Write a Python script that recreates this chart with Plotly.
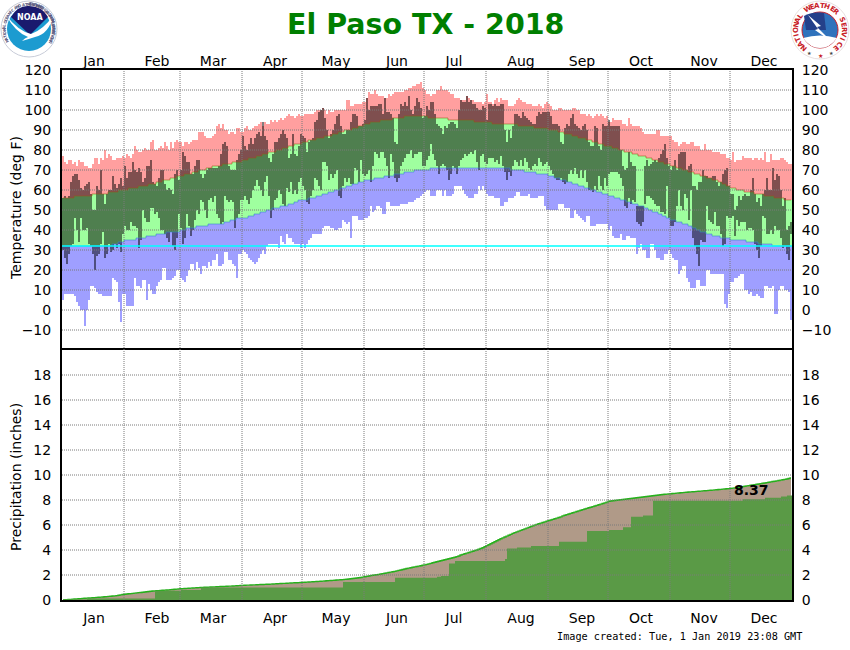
import math
import numpy as np
import plotly.graph_objects as go

W, H = 850, 650

months = ["Jan", "Feb", "Mar", "Apr", "May", "Jun", "Jul", "Aug", "Sep", "Oct", "Nov", "Dec"]
month_starts = [0, 31, 59, 90, 120, 151, 181, 212, 243, 273, 304, 334]
month_label_days = [15.5, 47, 75, 106, 136.5, 167, 195.5, 229, 259.5, 289, 320.5, 350.5]
temp_ticks = [120, 110, 100, 90, 80, 70, 60, 50, 40, 30, 20, 10, 0, -10]
precip_ticks = [18, 16, 14, 12, 10, 8, 6, 4, 2, 0]

# daily values, one row per month
record_high = [
    77,74,73,75,75,73,74,72,75,74,74,72,72,71,71,73,76,76,73,76,75,80,76,78,77,75,75,76,76,76,77,
    76,78,77,76,78,82,80,79,79,80,81,80,80,84,85,80,80,81,82,81,84,82,80,84,81,84,85,84,
    84,82,84,84,83,84,85,85,85,89,89,89,87,86,86,86,87,88,92,93,91,93,90,90,88,89,89,88,91,91,89,
    89,91,92,90,90,91,92,92,93,94,92,94,93,93,95,94,95,94,95,96,95,96,97,98,97,97,96,97,98,97,
    97,98,98,98,98,98,99,100,100,100,101,100,98,100,99,99,100,100,100,100,100,100,105,105,102,102,103,103,103,103,104,
    104,106,109,108,108,110,108,107,107,107,106,106,108,107,108,109,109,109,109,109,110,110,111,111,112,112,113,113,114,111,
    110,108,108,107,108,108,110,110,112,110,110,110,109,108,108,106,106,106,105,105,105,107,106,105,105,104,104,104,104,103,104,
    108,104,104,103,105,106,104,106,105,105,105,102,102,102,103,105,106,105,104,104,103,103,103,102,102,102,103,102,101,103,104,
    103,102,100,100,100,101,101,100,100,100,100,100,101,101,100,100,98,98,98,97,98,97,96,97,98,97,98,97,96,97,
    94,94,96,95,95,95,95,93,93,92,96,93,92,92,92,92,91,89,88,88,88,88,88,88,90,90,87,87,87,87,87,
    87,85,84,84,82,83,84,84,83,83,84,84,82,82,82,80,80,83,80,80,80,79,79,79,79,78,78,78,76,76,
    75,79,74,75,75,75,77,76,76,76,76,75,76,76,75,76,75,79,74,74,78,75,75,75,75,76,76,75,74,73,73,
]
record_low = [
    5,8,8,8,8,8,7,4,2,0,0,-8,0,5,12,12,11,9,8,8,7,7,7,7,7,16,15,14,4,-6,8,
    8,2,2,2,2,16,12,12,11,15,15,5,13,10,8,8,12,14,15,21,21,15,15,15,16,17,20,20,
    16,15,14,17,20,23,23,20,24,21,18,22,22,21,24,22,25,25,28,22,22,23,29,29,25,25,23,22,16,28,28,
    30,29,28,26,25,24,23,24,26,28,30,28,32,33,33,33,33,33,31,37,34,33,38,36,36,34,33,33,33,31,
    33,31,33,35,36,38,38,38,38,38,41,42,42,42,41,41,40,40,41,41,45,44,43,44,36,47,47,47,45,45,45,
    46,46,47,52,49,50,52,52,51,48,48,54,54,52,52,52,52,52,53,53,53,53,54,54,54,55,56,56,57,58,
    59,60,60,57,57,57,60,60,60,57,60,57,57,57,58,62,62,62,62,60,58,57,56,56,56,58,58,62,60,62,60,
    58,57,57,57,56,56,56,52,52,54,54,56,56,56,57,59,59,57,57,57,57,58,56,56,56,56,57,57,57,52,50,
    50,50,50,50,50,53,53,53,51,51,51,46,46,50,48,47,46,45,44,47,47,42,42,42,43,43,43,43,43,43,
    40,42,37,36,36,36,38,35,35,37,37,36,36,36,28,31,33,30,30,26,26,33,33,30,26,26,25,25,28,28,30,
    28,26,25,25,18,20,22,22,16,14,11,11,11,15,15,12,12,12,20,20,18,18,18,18,18,18,18,3,1,8,
    14,14,16,16,17,18,18,10,10,8,9,7,7,8,7,6,6,12,12,11,11,12,-2,-2,10,12,12,10,10,9,-5,
]
normal_high = [
    56,56,56,56,56,56,57,57,57,57,57,57,57,57,57,58,58,58,58,58,58,58,58,59,59,59,59,59,60,60,60,
    60,60,61,61,61,61,61,62,62,62,62,62,63,63,63,63,64,64,64,65,65,65,65,66,66,66,67,67,
    67,67,68,68,68,68,69,69,69,70,70,70,70,71,71,71,72,72,72,72,72,73,73,73,73,73,74,74,74,74,74,
    75,75,75,76,76,76,76,77,77,77,78,78,78,79,79,79,79,80,80,80,81,81,81,82,82,82,83,83,83,83,
    84,84,84,85,85,85,85,86,86,86,86,87,87,87,87,88,88,88,89,89,89,90,90,90,90,91,91,91,92,92,92,
    93,93,93,94,94,94,94,94,95,95,95,95,95,95,96,96,96,96,96,96,97,97,97,97,97,97,97,97,97,97,
    97,97,96,96,96,96,96,96,96,96,96,96,95,95,95,95,95,95,95,95,95,95,95,95,95,94,94,94,94,94,94,
    94,94,94,93,93,93,93,93,93,93,93,93,93,93,93,93,92,92,92,92,92,92,92,92,91,91,91,91,91,91,91,
    90,90,90,90,90,89,89,89,88,88,88,88,87,87,87,86,86,86,86,85,85,85,84,84,84,83,83,83,82,82,
    82,82,81,81,81,80,80,80,79,79,79,79,78,78,78,77,77,77,77,76,76,76,75,75,75,74,74,74,73,73,73,
    72,72,72,71,71,71,70,70,70,69,69,69,68,68,68,67,67,67,66,66,66,65,65,65,64,64,63,63,62,62,
    61,61,61,60,60,60,60,59,59,59,59,59,58,58,58,58,58,57,57,57,57,57,56,56,56,56,56,55,55,55,55,
]
normal_low = [
    32,32,32,32,32,32,32,32,32,32,32,32,32,32,32,32,32,32,32,32,32,32,32,32,32,33,33,33,34,34,34,
    35,35,35,35,35,35,36,36,36,36,36,37,37,37,37,37,38,38,38,38,38,39,39,39,39,39,39,39,
    40,40,40,41,41,41,41,41,42,42,42,42,42,42,43,43,43,43,43,43,43,43,44,44,44,45,45,45,46,46,46,
    46,46,46,47,47,47,48,48,48,49,49,49,50,50,50,51,51,51,51,52,52,52,52,53,53,53,54,54,55,55,
    55,55,55,56,56,56,56,57,57,57,58,58,58,59,59,59,60,60,60,61,61,61,62,62,62,63,63,63,64,64,64,
    65,65,65,65,65,66,66,66,66,66,67,67,67,67,67,68,68,68,68,68,69,69,69,69,69,70,70,70,70,70,
    70,70,70,71,71,71,71,71,71,71,71,71,71,71,71,71,71,71,71,71,71,71,71,71,71,71,71,71,71,71,71,
    71,71,71,71,71,71,71,71,71,71,71,71,70,70,70,70,70,70,70,69,69,69,69,69,69,68,68,68,68,68,68,
    67,67,67,66,66,66,65,65,65,64,64,64,63,63,63,62,62,62,61,61,61,60,60,60,59,59,59,58,58,58,
    57,57,57,56,56,56,55,55,55,54,54,54,53,53,53,52,52,52,51,51,50,50,49,49,49,48,48,47,47,46,46,
    45,45,45,44,44,44,43,43,43,42,42,41,41,40,40,39,39,39,38,38,38,37,37,37,37,36,36,36,36,36,
    35,35,35,35,35,35,35,35,34,34,34,34,34,34,33,33,33,33,33,33,33,32,32,32,32,32,32,32,32,32,32,
]
observed_high = [
    56,57,56,57,64,67,68,68,65,61,60,62,63,64,58,50,50,62,60,70,58,53,58,60,60,67,63,61,63,66,62,
    72,66,69,69,74,70,69,71,69,64,66,72,72,75,64,63,62,66,70,70,63,60,61,60,58,68,70,65,
    70,79,77,74,74,68,68,72,75,75,68,66,68,70,71,71,71,71,71,72,78,83,84,82,72,70,70,70,75,78,80,
    87,82,80,83,86,83,86,88,89,87,94,87,85,76,74,78,84,84,86,88,90,88,86,76,78,88,78,77,82,88,
    87,86,79,84,85,86,94,95,99,100,101,96,90,86,88,90,93,97,98,92,88,88,90,90,94,98,98,97,92,92,93,
    95,106,100,102,102,102,102,103,103,98,106,99,99,98,96,84,83,98,103,102,104,102,107,100,98,102,106,104,101,96,
    97,102,100,104,104,98,93,92,91,88,92,91,93,94,94,93,91,100,105,104,104,107,104,105,103,103,101,100,100,102,101,
    95,103,103,102,103,102,102,103,103,90,84,90,86,92,98,98,97,96,99,97,96,95,94,93,93,97,99,98,99,99,99,
    99,97,93,93,93,92,84,83,91,93,92,96,98,93,92,91,90,92,93,90,84,82,82,92,91,82,80,93,92,92,
    95,92,92,92,92,92,80,72,70,71,79,74,72,72,52,52,52,52,72,75,72,73,74,75,74,76,78,80,83,76,72,
    70,72,75,70,78,79,79,79,70,72,73,62,62,60,64,64,70,67,67,66,66,67,67,64,62,64,68,70,71,62,
    58,58,50,52,57,55,57,58,57,57,60,66,58,54,56,52,58,60,66,60,60,71,65,68,67,60,52,56,40,42,44,
]
observed_low = [
    30,26,23,28,32,33,46,40,34,46,40,40,41,33,32,28,20,27,28,33,39,26,28,33,29,30,33,31,33,29,38,
    42,40,40,44,42,42,41,31,35,50,46,44,44,51,51,48,49,46,40,40,38,36,34,39,32,30,36,48,
    41,33,36,48,42,37,40,45,50,48,55,54,50,46,55,56,54,57,48,46,43,44,57,55,54,55,54,41,46,48,55,
    55,57,55,53,56,60,62,65,62,60,57,64,67,57,46,50,55,56,60,58,53,52,61,59,64,58,60,58,64,66,
    62,60,54,53,57,60,66,65,62,60,74,74,72,65,68,66,68,70,57,56,62,66,64,66,63,63,71,70,64,75,68,
    67,68,70,64,72,79,78,76,79,79,76,72,66,78,74,66,64,66,72,74,76,78,78,80,76,78,78,79,79,72,
    72,75,77,83,78,75,72,68,72,73,72,70,65,68,72,71,68,72,75,76,78,77,78,79,78,80,74,70,77,78,74,
    73,76,76,76,74,75,73,77,72,69,65,69,67,72,75,74,72,75,72,76,74,71,70,72,73,72,76,74,72,73,74,
    72,70,68,66,65,65,66,64,63,64,68,70,68,71,68,66,70,66,70,64,60,60,59,62,60,67,62,60,66,62,
    68,69,69,69,69,68,66,62,52,51,56,53,55,54,44,43,42,44,53,57,57,56,55,53,52,52,49,49,48,62,46,
    42,42,44,52,60,52,50,58,56,45,60,36,32,28,22,35,34,34,52,45,44,43,49,42,42,38,32,33,47,46,
    46,47,37,45,42,44,44,44,40,41,41,40,33,30,26,32,47,46,38,38,40,38,42,40,40,36,31,32,28,25,38,
]
normal_precip = [
    0.01,0.02,0.03,0.04,0.05,0.07,0.08,0.09,0.10,0.11,0.13,0.14,0.15,0.16,0.17,0.18,0.19,0.21,0.22,0.23,0.24,0.26,0.27,0.29,0.30,0.32,0.33,0.35,0.38,0.41,0.44,
    0.46,0.48,0.50,0.51,0.53,0.55,0.57,0.59,0.60,0.62,0.64,0.66,0.68,0.70,0.72,0.73,0.74,0.75,0.77,0.78,0.79,0.80,0.81,0.83,0.84,0.86,0.87,0.89,
    0.90,0.91,0.92,0.93,0.94,0.95,0.96,0.97,0.98,0.99,1.00,1.01,1.02,1.02,1.03,1.04,1.05,1.05,1.06,1.07,1.08,1.08,1.09,1.10,1.11,1.11,1.12,1.13,1.14,1.15,1.16,
    1.17,1.18,1.19,1.19,1.20,1.21,1.21,1.22,1.23,1.24,1.24,1.25,1.26,1.26,1.27,1.28,1.29,1.30,1.31,1.32,1.33,1.33,1.34,1.35,1.36,1.37,1.38,1.38,1.39,1.40,
    1.41,1.42,1.43,1.44,1.45,1.46,1.47,1.48,1.49,1.50,1.51,1.52,1.54,1.55,1.56,1.57,1.58,1.60,1.61,1.62,1.63,1.65,1.66,1.68,1.70,1.72,1.74,1.76,1.78,1.80,1.83,
    1.86,1.89,1.92,1.95,1.98,2.00,2.02,2.05,2.08,2.11,2.14,2.17,2.20,2.23,2.26,2.29,2.33,2.37,2.40,2.44,2.48,2.52,2.55,2.58,2.62,2.65,2.68,2.71,2.74,2.78,
    2.81,2.85,2.89,2.93,2.98,3.02,3.06,3.10,3.14,3.18,3.22,3.26,3.30,3.34,3.38,3.42,3.47,3.52,3.60,3.65,3.70,3.75,3.80,3.85,3.90,3.95,4.00,4.06,4.12,4.18,4.26,
    4.35,4.42,4.50,4.58,4.66,4.74,4.82,4.90,4.97,5.04,5.11,5.18,5.25,5.33,5.39,5.45,5.51,5.57,5.63,5.69,5.75,5.81,5.87,5.93,5.99,6.05,6.10,6.15,6.20,6.25,6.30,
    6.35,6.40,6.45,6.50,6.55,6.60,6.65,6.73,6.78,6.83,6.88,6.93,6.98,7.03,7.08,7.13,7.18,7.23,7.28,7.33,7.38,7.42,7.47,7.52,7.57,7.62,7.67,7.72,7.77,7.83,
    7.90,7.92,7.94,7.96,7.98,8.00,8.02,8.04,8.06,8.08,8.10,8.12,8.14,8.16,8.18,8.20,8.22,8.24,8.26,8.28,8.30,8.32,8.34,8.36,8.38,8.40,8.42,8.44,8.46,8.47,8.49,
    8.50,8.52,8.53,8.55,8.56,8.58,8.59,8.61,8.62,8.64,8.65,8.66,8.67,8.69,8.70,8.71,8.73,8.74,8.75,8.77,8.78,8.79,8.81,8.82,8.84,8.85,8.87,8.88,8.90,8.91,
    8.93,8.95,8.97,9.00,9.02,9.05,9.07,9.10,9.13,9.15,9.18,9.20,9.23,9.26,9.28,9.31,9.34,9.36,9.39,9.42,9.45,9.48,9.50,9.53,9.56,9.59,9.62,9.65,9.68,9.72,9.76,
]
# observed total only changes on rain days
rain_days = [0, 12, 46, 59, 69, 140, 166, 187, 189, 193, 196, 221, 222, 227, 234, 248, 262, 273, 280, 284, 290, 295, 340, 351, 359, 362]
rain_totals = [0.04, 0.13, 0.75, 0.80, 1.00, 1.44, 1.79, 1.87, 1.92, 2.93, 3.12, 3.28, 4.13, 4.21, 4.32, 4.66, 5.53, 5.61, 5.83, 6.66, 6.76, 7.94, 8.07, 8.18, 8.29, 8.37]

for name, vals in [("rh", record_high), ("rl", record_low), ("nh", normal_high), ("nl", normal_low),
                   ("oh", observed_high), ("ol", observed_low), ("np", normal_precip)]:
    assert len(vals) == 365, (name, len(vals))

days = np.arange(365)
rec_hi, rec_lo = np.array(record_high), np.array(record_low)
norm_hi, norm_lo = np.array(normal_high), np.array(normal_low)
obs_hi, obs_lo = np.array(observed_high), np.array(observed_low)


def band(base, top, color):
    return go.Bar(x=days, y=top - base, base=base, width=1, xaxis="x", yaxis="y",
                  marker=dict(color=color, line=dict(width=0)), hoverinfo="skip", showlegend=False)


fig = go.Figure()
fig.add_trace(band(norm_hi, rec_hi, "#FF9F9F"))
fig.add_trace(band(rec_lo, norm_lo, "#9F9FFF"))
fig.add_trace(band(norm_lo, norm_hi, "#9FFF9F"))
fig.add_trace(band(obs_lo, obs_hi, "rgba(0,0,0,0.5)"))
# thin edges along the normals
fig.add_trace(go.Scatter(x=days, y=normal_high, xaxis="x", yaxis="y", mode="lines", hoverinfo="skip", showlegend=False,
                         line=dict(color="rgba(150,90,20,0.55)", width=1, shape="hvh")))
fig.add_trace(go.Scatter(x=days, y=normal_low, xaxis="x", yaxis="y", mode="lines", hoverinfo="skip", showlegend=False,
                         line=dict(color="rgba(50,140,200,0.6)", width=1, shape="hvh")))

# cumulative precipitation
fig.add_trace(go.Scatter(x=days, y=normal_precip, xaxis="x2", yaxis="y2", mode="lines", fill="tozeroy",
                         fillcolor="#B09A88", line=dict(color="#26B01C", width=1.3, shape="hvh"), hoverinfo="skip", showlegend=False))
fig.add_trace(go.Scatter(x=rain_days + [364.5], y=rain_totals + [rain_totals[-1]], xaxis="x2", yaxis="y2", mode="lines",
                         fill="tozeroy", fillcolor="#5A9A46", line=dict(color="#5A9A46", width=0, shape="hv"),
                         hoverinfo="skip", showlegend=False))

# empty traces so the right hand axes get drawn
fig.add_trace(go.Scatter(x=[0], y=[0], xaxis="x", yaxis="y3", mode="none", hoverinfo="skip", showlegend=False))
fig.add_trace(go.Scatter(x=[0], y=[0], xaxis="x2", yaxis="y4", mode="none", hoverinfo="skip", showlegend=False))

font = dict(family="DejaVu Sans", size=14, color="#000000")
x_dom = [62 / W, 792 / W]
temp_dom = [1 - 350 / H, 1 - 70 / H]
precip_dom = [1 - 600 / H, 1 - 350 / H]
x_common = dict(range=[-0.5, 364.5], domain=x_dom, tickmode="array", tickvals=month_label_days, ticktext=months,
                tickcolor="rgba(0,0,0,0)", tickfont=font, showgrid=False, zeroline=False,
                showline=True, linecolor="#000000", linewidth=2, fixedrange=True)
y_common = dict(tickmode="array", ticks="outside", ticklen=6, tickcolor="rgba(0,0,0,0)", tickfont=font,
                showgrid=False, zeroline=False, fixedrange=True)
y_frame = dict(showline=True, mirror=True, linecolor="#000000", linewidth=2)

fig.update_layout(
    width=W, height=H, margin=dict(l=0, r=0, t=0, b=0, autoexpand=False), autosize=False,
    paper_bgcolor="#FFFFFF", plot_bgcolor="#FFFFFF", barmode="overlay", bargap=0, showlegend=False,
    xaxis=dict(anchor="y", side="top", ticks="", ticklabelstandoff=-4, **x_common),
    xaxis2=dict(anchor="y2", side="bottom", mirror=True, ticks="outside", ticklen=4, **x_common),
    yaxis=dict(domain=temp_dom, range=[-20, 120], tickvals=temp_ticks, anchor="x", **y_common, **y_frame),
    yaxis2=dict(domain=precip_dom, range=[0, 20], tickvals=precip_ticks, anchor="x2", **y_common, **y_frame),
    yaxis3=dict(domain=temp_dom, range=[-20, 120], tickvals=temp_ticks, anchor="x", overlaying="y", side="right", **y_common),
    yaxis4=dict(domain=precip_dom, range=[0, 20], tickvals=precip_ticks, anchor="x2", overlaying="y2", side="right", **y_common),
)

# grid goes over the fills in this chart, so shapes and not axis grid
grid = dict(color="#7A7A7A", width=1, dash="1px,1px")
for v in temp_ticks[1:]:
    fig.add_shape(type="line", xref="x", yref="y", x0=-0.5, x1=364.5, y0=v, y1=v, line=grid, layer="above")
for v in precip_ticks[:-1]:
    fig.add_shape(type="line", xref="x2", yref="y2", x0=-0.5, x1=364.5, y0=v, y1=v, line=grid, layer="above")
for d in month_starts[1:]:
    fig.add_shape(type="line", xref="x", yref="y", x0=d - 0.5, x1=d - 0.5, y0=-20, y1=120, line=grid, layer="above")
    fig.add_shape(type="line", xref="x2", yref="y2", x0=d - 0.5, x1=d - 0.5, y0=0, y1=20, line=grid, layer="above")
# freezing line
fig.add_shape(type="line", xref="x", yref="y", x0=-0.5, x1=364.5, y0=32, y1=32,
              line=dict(color="#00FFFF", width=1.5), layer="above")


def px(x, y):
    return x / W, 1 - y / H


def text(x, y, s, size=14, color="#000000", bold=False, angle=0, family="DejaVu Sans"):
    ax, ay = px(x, y)
    fig.add_annotation(xref="paper", yref="paper", x=ax, y=ay, text=f"<b>{s}</b>" if bold else s, showarrow=False,
                       textangle=angle, xanchor="center", yanchor="middle",
                       font=dict(family=family, size=size, color=color))


def disc(cx, cy, r, fill, line=None, lw=0):
    x0, y0 = px(cx - r, cy - r)
    x1, y1 = px(cx + r, cy + r)
    fig.add_shape(type="circle", xref="paper", yref="paper", x0=x0, y0=y0, x1=x1, y1=y1, fillcolor=fill,
                  line=dict(color=line or fill, width=lw), layer="above")


def blob(cmds, fill):
    # cmds: list of (letter, x, y, x, y, ...) in pixels
    parts = []
    for c in cmds:
        pts = c[1:]
        out = []
        for i in range(0, len(pts), 2):
            ax, ay = px(pts[i], pts[i + 1])
            out.append(f"{ax:.5f},{ay:.5f}")
        parts.append(c[0] + " ".join(out))
    fig.add_shape(type="path", xref="paper", yref="paper", path=" ".join(parts) + " Z", fillcolor=fill,
                  line=dict(width=0), layer="above")


def ring_text(cx, cy, r, s, start, step, size, color, inward=False):
    for i, ch in enumerate(s):
        if ch == " ":
            continue
        a = start + step * i
        tx = cx + r * math.sin(math.radians(a))
        ty = cy - r * math.cos(math.radians(a))
        text(tx, ty, ch, size=size, color=color, bold=True, angle=a + 180 if inward else a)


# NOAA logo
disc(29, 29, 28, "#FFFFFF", "#C8CCD8", 1)
ring_text(29, 29, 25, "NATIONAL OCEANIC AND ATMOSPHERIC ADMINISTRATION", -118, 5.1, 4, "#5A5A80")
ring_text(29, 29, 25, "U.S. DEPARTMENT OF COMMERCE", 122, -4.6, 4, "#5A5A80", inward=True)
disc(29, 29, 22, "#1C9BD0")
blob([("M", 11, 17), ("Q", 18, 5, 29, 6), ("Q", 42, 6, 48, 17), ("L", 30, 35)], "#1A1A6E")
blob([("M", 6, 15), ("Q", 18, 31, 31, 34), ("Q", 43, 30, 53, 16), ("Q", 49, 34, 35, 37),
      ("Q", 29, 39, 22, 41), ("Q", 25, 38, 28, 37), ("Q", 15, 32, 6, 15)], "#FFFFFF")
text(30, 18, "NOAA", size=8, color="#FFFFFF", bold=True)

# NWS logo
disc(820, 30, 29, "#FFFFFF", "#E8E0E0", 1)
disc(820, 30, 18, "#2F72BC", "#C82028", 1)
blob([("M", 804, 16), ("Q", 812, 11, 824, 13), ("L", 826, 30), ("L", 806, 30)], "#24408A")
blob([("M", 803, 38), ("Q", 820, 33, 837, 38), ("Q", 830, 48, 820, 48), ("Q", 810, 48, 803, 38)], "#FFFFFF")
blob([("M", 808, 15), ("L", 821, 26), ("L", 817, 27), ("L", 832, 42), ("L", 815, 30), ("L", 818, 29)], "#FFFFFF")
ring_text(820, 30, 24, "NATIONAL WEATHER SERVICE", -138, 12, 7, "#C82028")
text(820, 55, "★", size=6, color="#C82028")
text(809, 53, "★", size=5, color="#444444")
text(831, 53, "★", size=5, color="#444444")

# titles and notes
text(425, 24, "El Paso TX - 2018", size=28.5, color="#007F00", bold=True)
text(16, 208, "Temperature (deg F)", size=14, angle=-90)
text(16, 477, "Precipitation (inches)", size=14, angle=-90)
text(751, 490, "8.37", size=14, bold=True)
text(679, 636, "Image created: Tue, 1 Jan 2019 23:08 GMT", size=10.2, family="DejaVu Sans Mono")

fig.write_html("out.html", config=dict(displayModeBar=False),
               post_script="document.body.style.margin='0';document.body.style.overflow='hidden';")
